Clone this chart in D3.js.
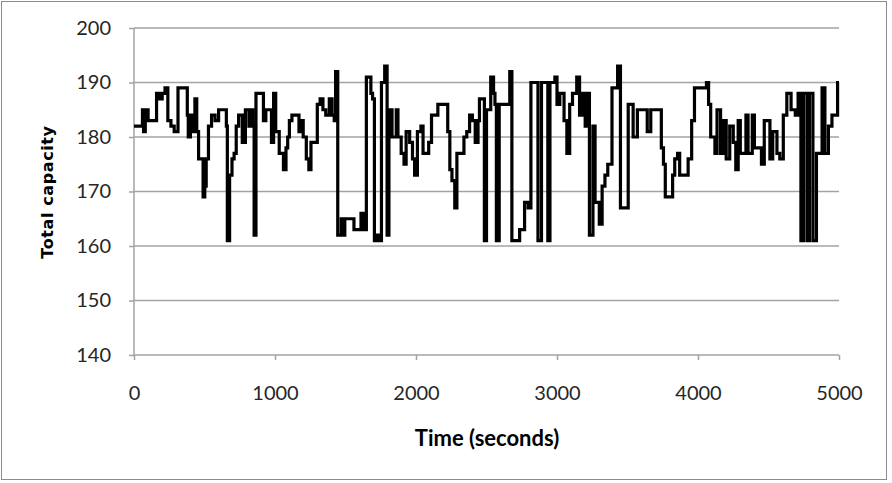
<!DOCTYPE html>
<html>
<head>
    <meta charset="UTF-8">
    <style>
        body { margin: 0; background: #fff; }
        .tick text { font-family: Lato, "Open Sans", sans-serif; font-size: 20px; fill: #262626; }
    </style>
</head>
<body>
    <svg id="chart"></svg>
    <script src="https://d3js.org/d3.v7.min.js"></script>
    <script>
        // data (step series)
        let times = [0, 60, 68, 80, 100, 160, 180, 200, 220, 240, 262, 285, 312, 378, 385, 400, 420, 432, 445, 458,
            490, 502, 512, 528, 550, 575, 600, 655, 662, 678, 695, 710, 725, 742, 768, 790, 815, 830, 842, 852,
            865, 918, 935, 975, 990, 1005, 1030, 1060, 1078, 1090, 1102, 1120, 1170, 1185, 1200, 1222, 1240, 1255, 1300, 1320,
            1340, 1360, 1385, 1405, 1420, 1430, 1445, 1470, 1483, 1495, 1560, 1610, 1630, 1648, 1680, 1692, 1705, 1725, 1745, 1755,
            1778, 1795, 1808, 1830, 1860, 1872, 1895, 1915, 1930, 1955, 1975, 1990, 2010, 2035, 2050, 2090, 2110, 2155, 2225, 2240,
            2255, 2275, 2290, 2340, 2360, 2380, 2400, 2420, 2440, 2450, 2485, 2500, 2530, 2550, 2560, 2570, 2590, 2665, 2680, 2735,
            2770, 2795, 2815, 2865, 2890, 2935, 2950, 2985, 3000, 3020, 3050, 3070, 3090, 3110, 3140, 3160, 3180, 3200, 3220, 3230,
            3255, 3270, 3300, 3320, 3340, 3360, 3390, 3430, 3450, 3505, 3540, 3570, 3640, 3665, 3740, 3755, 3768, 3820, 3835, 3855,
            3870, 3930, 3955, 3975, 4060, 4075, 4090, 4120, 4135, 4160, 4180, 4200, 4225, 4250, 4268, 4285, 4300, 4340, 4355, 4385,
            4400, 4450, 4470, 4510, 4530, 4560, 4580, 4605, 4630, 4660, 4690, 4710, 4730, 4750, 4775, 4790, 4815, 4840, 4880, 4900,
            4925, 4950, 4990, 5000];
        let capacity = [182, 185, 181, 185, 183, 188, 187, 188, 189, 183, 182, 181, 189, 184, 180, 184, 181, 187, 181, 176,
            169, 171, 176, 182, 184, 183, 185, 182, 161, 173, 176, 177, 182, 184, 179, 185, 182, 185, 182, 162,
            188, 183, 185, 179, 188, 181, 177, 174, 178, 180, 183, 184, 181, 183, 180, 176, 174, 179, 186, 187,
            185, 184, 187, 184, 183, 192, 162, 165, 162, 165, 163, 166, 163, 191, 188, 187, 161, 162, 161, 190,
            193, 162, 185, 180, 185, 180, 177, 175, 181, 179, 176, 173, 181, 182, 177, 179, 184, 186, 181, 174,
            172, 167, 177, 180, 181, 184, 183, 179, 183, 187, 161, 185, 191, 188, 186, 161, 186, 192, 161, 163,
            168, 167, 190, 161, 190, 161, 190, 191, 186, 188, 183, 177, 186, 188, 191, 184, 188, 182, 188, 162,
            182, 168, 164, 171, 173, 175, 189, 193, 167, 186, 180, 185, 181, 185, 178, 175, 169, 173, 176, 177,
            173, 176, 183, 189, 190, 186, 180, 177, 185, 177, 183, 176, 182, 179, 174, 183, 177, 184, 177, 184,
            178, 175, 183, 176, 181, 177, 176, 184, 188, 185, 184, 188, 161, 188, 161, 188, 161, 177, 189, 177,
            182, 184, 190, 190];
        let xTicks = [0, 1000, 2000, 3000, 4000, 5000];
        let yTicks = [140, 150, 160, 170, 180, 190, 200];

        let width = 892, height = 483;
        let margin = { left: 134, right: 53, top: 28, bottom: 128 };

        let svg = d3.select("#chart")
            .attr("width", width)
            .attr("height", height);

        // outer frame
        svg.append("rect")
            .attr("x", 1.5).attr("y", 1.5)
            .attr("width", 885).attr("height", 478)
            .attr("fill", "#fff")
            .attr("stroke", "#8c8c8c")
            .attr("stroke-width", 1);

        let x = d3.scaleLinear().domain([0, 5000]).range([margin.left, width - margin.right]);
        let y = d3.scaleLinear().domain([140, 200]).range([height - margin.bottom, margin.top]);

        // gridlines
        svg.append("g")
            .selectAll("line")
            .data(yTicks.filter(d => d > 140))
            .enter()
            .append("line")
            .attr("x1", x(0)).attr("x2", x(5000))
            .attr("y1", d => y(d)).attr("y2", d => y(d))
            .attr("stroke", "#a3a3a3")
            .attr("stroke-width", 1.5);

        let yAxis = svg.append("g")
            .attr("transform", "translate(" + x(0) + ",0)")
            .call(d3.axisLeft(y).tickValues(yTicks).tickSize(5).tickPadding(18));

        let xAxis = svg.append("g")
            .attr("transform", "translate(0," + y(140) + ")")
            .call(d3.axisBottom(x).tickValues(xTicks).tickSize(5).tickPadding(26).tickFormat(d3.format("d")));

        [yAxis, xAxis].forEach(a => {
            a.select(".domain").attr("stroke", "#a3a3a3").attr("stroke-width", 1.5);
            a.selectAll(".tick line").attr("stroke", "#a3a3a3").attr("stroke-width", 1.5);
        });
        yAxis.select(".domain").attr("d", "M0," + y(140) + "V" + y(200));
        xAxis.select(".domain").attr("d", "M" + x(0) + ",0H" + x(5000));

        let series = times.map((t, i) => [t, capacity[i]]);
        let line = d3.line()
            .x(d => x(d[0]))
            .y(d => y(d[1]))
            .curve(d3.curveStepAfter);

        svg.append("path")
            .datum(series)
            .attr("d", line)
            .attr("fill", "none")
            .attr("stroke", "#000")
            .attr("stroke-width", 3.2)
            .attr("stroke-linejoin", "miter");

        // axis titles
        svg.append("text")
            .attr("transform", "translate(53,192) rotate(-90)")
            .attr("text-anchor", "middle")
            .style("font-family", "'DejaVu Sans', Verdana, sans-serif")
            .style("font-weight", "bold")
            .style("font-size", "16px")
            .style("letter-spacing", "0.6px")
            .text("Total capacity");

        svg.append("text")
            .attr("x", 487)
            .attr("y", 446)
            .attr("text-anchor", "middle")
            .style("font-family", "Lato, 'Open Sans', sans-serif")
            .style("font-weight", "bold")
            .style("font-size", "22px")
            .text("Time (seconds)");
    </script>
</body>
</html>
